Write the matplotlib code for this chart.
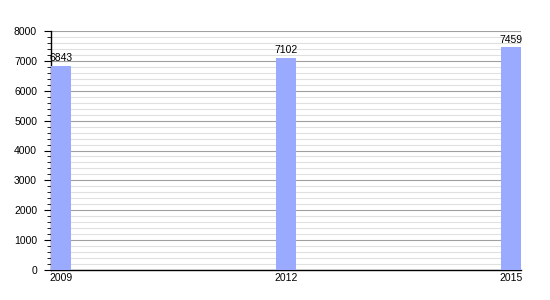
import matplotlib
matplotlib.use("Agg")
import matplotlib.pyplot as plt
from matplotlib.ticker import MultipleLocator

years = [2009, 2012, 2015]
values = [6843, 7102, 7459]

plt.rcParams['font.family'] = ['Liberation Sans', 'DejaVu Sans']

fig = plt.figure(figsize=(5.5, 3.0), dpi=100)
ax = fig.add_axes([51/550, 30/300, 470/550, 239/300])

w = 0.267
ax.bar(years, values, width=w, color='#9aabff', zorder=3)
for x, v in zip(years, values):
    ax.text(x, v + 80, str(v), ha='center', va='bottom', fontsize=7.5, zorder=4)

ax.set_xlim(years[0] - w/2, years[-1] + w/2)
ax.set_ylim(0, 8000)
ax.set_xticks(years)
ax.set_xticklabels([str(y) for y in years])
ax.yaxis.set_major_locator(MultipleLocator(1000))
ax.yaxis.set_minor_locator(MultipleLocator(200))
ax.grid(axis='y', which='major', color='#a0a0a0', linewidth=0.8, zorder=1)
ax.grid(axis='y', which='minor', color='#e0e0e0', linewidth=0.8, zorder=1)
ax.set_axisbelow(True)
for s in ['top', 'right']:
    ax.spines[s].set_visible(False)
ax.spines['left'].set_linewidth(1.0)
ax.spines['bottom'].set_linewidth(1.0)
ax.tick_params(axis='y', which='major', length=5, labelsize=7.5, pad=5)
ax.tick_params(axis='y', which='minor', length=3)
ax.tick_params(axis='x', length=0, labelsize=7.5, pad=2)

fig.savefig('out.png', dpi=100)
